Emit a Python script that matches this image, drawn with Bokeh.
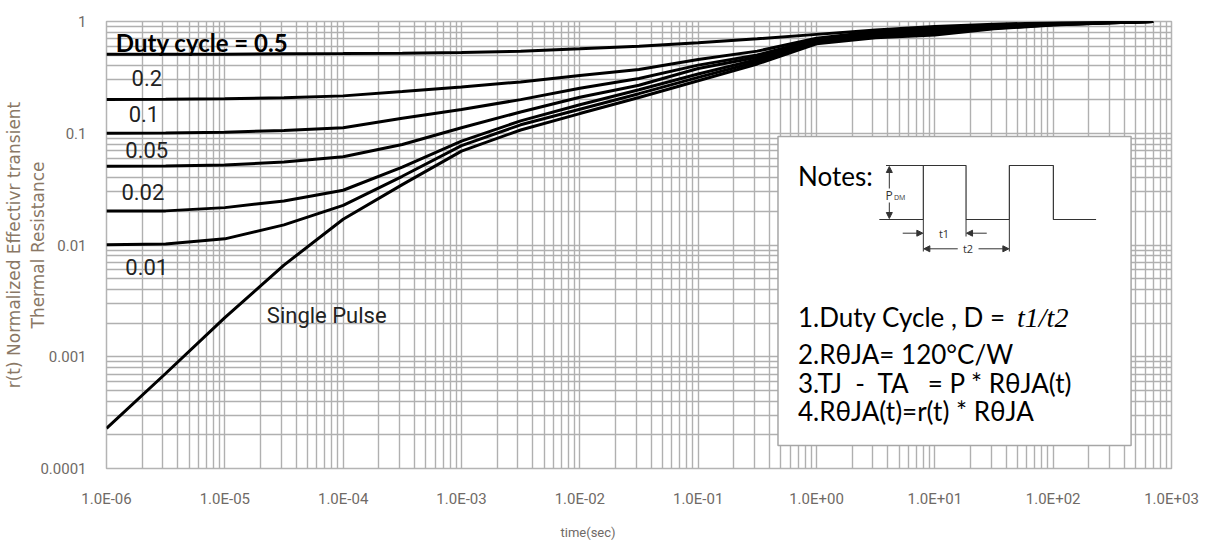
import numpy as np
from bokeh.plotting import figure
from bokeh.models import (Range1d, FixedTicker, CustomJSTickFormatter, Title,
                          Arrow, NormalHead)
from bokeh.core.properties import value
from bokeh.embed import file_html
from bokeh.resources import INLINE

# ---------------- data ----------------
time_s = [1e-6, 3.16e-6, 1e-5, 3.16e-5, 1e-4, 3.16e-4, 1e-3, 3.16e-3, 1e-2,
          3.16e-2, 0.1, 0.316, 1, 3.16, 10, 31.6, 100, 316, 700]

r_d050 = [0.51, 0.51, 0.51, 0.514, 0.516, 0.52, 0.527, 0.543, 0.57, 0.60,
          0.646, 0.70, 0.767, 0.84, 0.90, 0.944, 0.977, 0.993, 1.0]
r_d020 = [0.2, 0.201, 0.204, 0.2075, 0.216, 0.236, 0.259, 0.288, 0.329, 0.372,
          0.457, 0.543, 0.708, 0.813, 0.871, 0.923, 0.962, 0.986, 1.0]
r_d010 = [0.1, 0.1005, 0.102, 0.106, 0.112, 0.136, 0.163, 0.2, 0.253, 0.309,
          0.407, 0.501, 0.692, 0.794, 0.847, 0.912, 0.955, 0.984, 1.0]
r_d005 = [0.0507, 0.0509, 0.0519, 0.0553, 0.0617, 0.0794, 0.112, 0.155, 0.21,
          0.269, 0.38, 0.479, 0.676, 0.776, 0.822, 0.902, 0.951, 0.982, 1.0]
r_d002 = [0.0201, 0.0202, 0.0216, 0.0248, 0.0309, 0.0498, 0.0851, 0.129, 0.18,
          0.245, 0.339, 0.457, 0.661, 0.75, 0.794, 0.881, 0.94, 0.977, 1.0]
r_d001 = [0.01005, 0.01023, 0.01135, 0.01514, 0.02265, 0.0412, 0.0776, 0.119,
          0.164, 0.226, 0.316, 0.437, 0.646, 0.733, 0.776, 0.871, 0.933, 0.975, 1.0]
r_single = [2.29e-4, 7.08e-4, 2.24e-3, 6.61e-3, 0.017, 0.0347, 0.0692, 0.107,
            0.15, 0.209, 0.295, 0.417, 0.631, 0.716, 0.759, 0.861, 0.929, 0.973, 1.0]
series = [r_d050, r_d020, r_d010, r_d005, r_d002, r_d001, r_single]

curve_labels = ["0.2", "0.1", "0.05", "0.02", "0.01", "Single Pulse"]
curve_label_x = [2.19e-6, 2.07e-6, 2.19e-6, 2.03e-6, 2.19e-6, 7.26e-5]
curve_label_y = [0.309, 0.150, 0.0701, 0.0295, 0.00642, 0.00234]
title_label = "Duty cycle = 0.5"

x_ticks = [1e-6, 1e-5, 1e-4, 1e-3, 1e-2, 1e-1, 1e0, 1e1, 1e2, 1e3]
x_tick_labels = ["1.0E-06", "1.0E-05", "1.0E-04", "1.0E-03", "1.0E-02",
                 "1.0E-01", "1.0E+00", "1.0E+01", "1.0E+02", "1.0E+03"]
y_ticks = [1e-4, 1e-3, 1e-2, 1e-1, 1]
y_tick_labels = ["0.0001", "0.001", "0.01", "0.1", "1"]

NB = "\u00a0"
notes_lines = ["1.Duty Cycle , D = ", "2.R\u03b8JA= 120\u00b0C/W",
               "3.TJ" + NB * 2 + "-" + NB * 2 + "TA" + NB * 3 + "= P * R\u03b8JA(t)",
               "4.R\u03b8JA(t)=r(t) * R\u03b8JA"]

# ---------------- figure ----------------
W, H = 1203, 554
p = figure(width=W, height=H, x_axis_type="log", y_axis_type="log",
           x_range=Range1d(1e-6, 1e3), y_range=Range1d(1e-4, 1),
           output_backend="svg", toolbar_location=None)
p.min_border_left = 106
p.min_border_right = W - 106 - 1065
p.min_border_top = 21
p.min_border_bottom = H - 21 - 447
p.background_fill_color = "white"
p.border_fill_color = "white"
p.outline_line_color = "#b4b4b4"
p.outline_line_width = 1.5

x_minor = [k * 10.0 ** e for e in range(-6, 3) for k in range(2, 10)]
y_minor = [k * 10.0 ** e for e in range(-4, 0) for k in range(2, 10)]
p.xaxis.ticker = FixedTicker(ticks=x_ticks, minor_ticks=x_minor)
p.yaxis.ticker = FixedTicker(ticks=y_ticks, minor_ticks=y_minor)

fmt_code = """
let best = 0;
for (let i = 0; i < tvals.length; i++) {
  if (Math.abs(Math.log10(tvals[i]) - Math.log10(tick)) <
      Math.abs(Math.log10(tvals[best]) - Math.log10(tick))) best = i;
}
return tlabels[best];
"""
p.xaxis.formatter = CustomJSTickFormatter(args=dict(tvals=x_ticks, tlabels=x_tick_labels), code=fmt_code)
p.yaxis.formatter = CustomJSTickFormatter(args=dict(tvals=y_ticks, tlabels=y_tick_labels), code=fmt_code)

for g in (p.xgrid, p.ygrid):
    g.grid_line_color = "#b0b0b0"
    g.grid_line_width = 1.4
    g.minor_grid_line_color = "#b0b0b0"
    g.minor_grid_line_width = 1.4

tick_color = "#6f6a66"
for ax in (p.xaxis, p.yaxis):
    ax.axis_line_color = None
    ax.major_tick_line_color = None
    ax.minor_tick_line_color = None
    ax.major_label_text_font = "Roboto"
    ax.major_label_text_font_size = "15px"
    ax.major_label_text_color = tick_color
p.xaxis.major_label_standoff = 15
p.yaxis.major_label_standoff = 14

p.yaxis.axis_label = "r(t) Normalized Effectivr transient\nThermal Resistance"
p.yaxis.axis_label_text_font = "DejaVu Sans"
p.yaxis.axis_label_text_font_size = "17px"
p.yaxis.axis_label_text_font_style = "normal"
p.yaxis.axis_label_text_color = "#8a7866"
p.yaxis.axis_label_standoff = -11

p.add_layout(Title(text="time(sec)", align="left", offset=454,
                   text_font="Roboto", text_font_size="13px",
                   text_font_style="normal", text_color=tick_color, standoff=25), "below")

# ---------------- curves ----------------
for s in series:
    p.line(time_s, s, line_color="black", line_width=3)

p.text(x=curve_label_x, y=curve_label_y, text=curve_labels,
       text_font=value("Roboto"), text_font_size="22px",
       text_color="#222222", text_align="center", text_baseline="middle")
p.text(x=[1.2e-6], y=[0.655], text=[title_label], text_font=value("Lato"),
       text_font_size="24px", text_font_style="bold", text_color="black",
       text_align="left", text_baseline="middle")

# ---------------- notes box (positions in reference frame pixels) ----------------
FRAME_L, FRAME_W, FRAME_T, FRAME_H = 105.7, 1064.7, 21.0, 447.0
def dx(px):
    return 10 ** (-6 + 9 * (px - FRAME_L) / FRAME_W)
def dy(py):
    return 10 ** (-4 * (py - FRAME_T) / FRAME_H)

p.quad(left=[dx(777)], right=[dx(1130)], top=[dy(136)], bottom=[dy(445)],
       fill_color="white", line_color="#a6a6a6", line_width=1.5)

p.text(x=[dx(797)], y=[dy(175)], text=["Notes:"], text_font=value("Lato"),
       text_font_size="26px", text_color="black", text_align="left",
       text_baseline="alphabetic")
baselines = [316.7, 353.3, 382.7, 410.0]
p.text(x=[dx(797)] * 4, y=[dy(b) for b in baselines], text=notes_lines,
       text_font=value("Lato"), text_font_size="26px", text_color="black",
       text_align="left", text_baseline="alphabetic")
p.text(x=[dx(1016)], y=[dy(316.7)], text=["t1/t2"], text_font=value("Liberation Serif"),
       text_font_size="28px", text_font_style="italic", text_color="black",
       text_align="left", text_baseline="alphabetic")

# pulse waveform
wave_px = [878.3, 922.3, 922.3, 965, 965, 1008.3, 1008.3, 1052.3, 1052.3, 1095]
wave_py = [219, 219, 165, 165, 219, 219, 165, 165, 219, 219]
dc = "#333333"
p.line([dx(v) for v in wave_px], [dy(v) for v in wave_py], line_color=dc, line_width=1.2)
seg_px = [[885, 922.3], [922.3, 922.3], [965, 965], [1008.3, 1008.3]]
seg_py = [[165, 165], [219, 251], [219, 236], [219, 251]]
p.multi_line([[dx(a) for a in s] for s in seg_px], [[dy(b) for b in s] for s in seg_py],
             line_color=dc, line_width=1.0)

def arrow(x0, y0, x1, y1):
    p.add_layout(Arrow(end=NormalHead(size=6, fill_color=dc, line_color=dc),
                       x_start=dx(x0), y_start=dy(y0), x_end=dx(x1), y_end=dy(y1),
                       line_color=dc, line_width=1.0))

arrow(888.3, 188, 888.3, 166)
arrow(888.3, 202, 888.3, 218)
arrow(901.7, 232.7, 921.8, 232.7)
arrow(985.7, 232.7, 965.5, 232.7)
arrow(956.7, 248.3, 922.8, 248.3)
arrow(977.5, 248.3, 1007.8, 248.3)

p.text(x=[dx(943), dx(967)], y=[dy(232.7), dy(248.3)], text=["t1", "t2"],
       text_font=value("Open Sans"), text_font_size="11px", text_color=dc,
       text_align="center", text_baseline="middle")
p.text(x=[dx(888)], y=[dy(195)], text=["P"], text_font=value("Open Sans"),
       text_font_size="12px", text_color=dc, text_align="center", text_baseline="middle")
p.text(x=[dx(893)], y=[dy(197)], text=["DM"], text_font=value("Open Sans"),
       text_font_size="7px", text_color=dc, text_align="left", text_baseline="middle")

open("out.html", "w").write(file_html(p, INLINE))
